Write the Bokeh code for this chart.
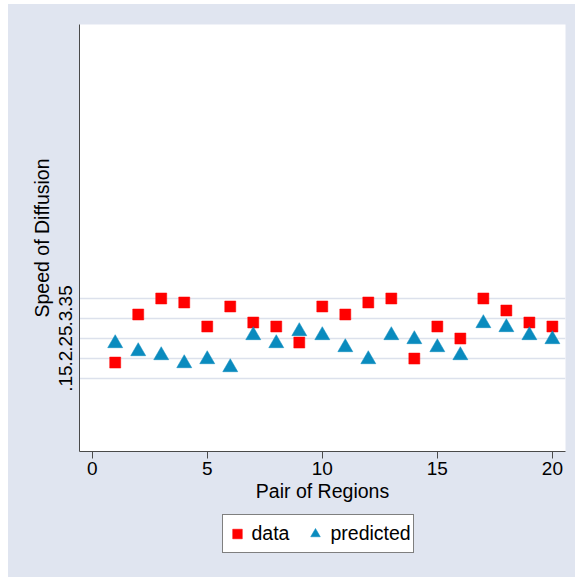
from bokeh.plotting import figure
from bokeh.layouts import column
from bokeh.models import Range1d, FixedTicker, Legend, LegendItem
from bokeh.embed import file_html
from bokeh.resources import INLINE

# ---- data ----
pairs = list(range(1, 21))
data = [0.19, 0.31, 0.35, 0.34, 0.28, 0.33, 0.29, 0.28, 0.24, 0.33,
        0.31, 0.34, 0.35, 0.20, 0.28, 0.25, 0.35, 0.32, 0.29, 0.28]
predicted = [0.238, 0.218, 0.208, 0.188, 0.198, 0.178, 0.258, 0.238, 0.268, 0.258,
             0.228, 0.198, 0.258, 0.248, 0.228, 0.208, 0.288, 0.278, 0.258, 0.248]
x_ticks = [0, 5, 10, 15, 20]
y_ticks = [0.15, 0.2, 0.25, 0.3, 0.35]
y_tick_labels = [".15", ".2", ".25", ".3", ".35"]
series_labels = ["data", "predicted"]

BG = "#E0E5F0"
GRID = "#DCE1EC"
AXIS = "#4a4a4a"
FONT = "Liberation Sans"
RED = "#FF0000"
BLUE = "#0A8BBE"

p = figure(width=567, height=509, output_backend="svg", toolbar_location=None,
           x_range=Range1d(-0.552, 20.57), y_range=Range1d(-0.032, 1.034),
           background_fill_color="white", border_fill_color=BG,
           min_border_left=71, min_border_right=10, min_border_top=20,
           min_border_bottom=62)
p.outline_line_color = None

# x axis
xa = p.xaxis[0]
xa.ticker = FixedTicker(ticks=x_ticks)
xa.axis_label = "Pair of Regions"
xa.axis_line_color = AXIS
xa.major_tick_line_color = AXIS
xa.major_tick_out = 7
xa.major_tick_in = 0
xa.minor_tick_line_color = None
xa.major_label_standoff = 3
xa.major_label_text_font = FONT
xa.major_label_text_font_size = "19px"
xa.major_label_text_color = "black"
xa.axis_label_text_font = FONT
xa.axis_label_text_font_size = "19.5px"
xa.axis_label_text_font_style = "normal"
xa.axis_label_text_color = "black"
xa.axis_label_standoff = 2

# y axis
ya = p.yaxis[0]
ya.ticker = FixedTicker(ticks=y_ticks)
ya.major_label_overrides = dict(zip(y_ticks, y_tick_labels))
ya.major_label_orientation = "vertical"
ya.axis_label = "Speed of Diffusion"
ya.axis_line_color = AXIS
ya.major_tick_line_color = None
ya.major_tick_out = 0
ya.major_tick_in = 0
ya.minor_tick_line_color = None
ya.major_label_standoff = 7
ya.major_label_text_font = FONT
ya.major_label_text_font_size = "19px"
ya.major_label_text_color = "black"
ya.axis_label_text_font = FONT
ya.axis_label_text_font_size = "19.5px"
ya.axis_label_text_font_style = "normal"
ya.axis_label_text_color = "black"
ya.axis_label_standoff = 4

p.xgrid.grid_line_color = None
p.ygrid.ticker = FixedTicker(ticks=y_ticks)
p.ygrid.grid_line_color = GRID
p.ygrid.grid_line_width = 1.5

p.scatter(pairs, data, marker="square", size=11,
          fill_color=RED, line_color=RED, line_width=0.5)
p.scatter(pairs, predicted, marker="triangle", size=15,
          fill_color=BLUE, line_color=BLUE, line_width=0.5)

# ---- legend strip below the chart (transparent, on the grey graph region) ----
lf = figure(width=567, height=64, output_backend="svg", toolbar_location=None,
            x_range=Range1d(0, 1), y_range=Range1d(0, 1),
            x_axis_type=None, y_axis_type=None,
            background_fill_color=None, border_fill_color=None,
            min_border_left=71, min_border_right=10, min_border_top=0,
            min_border_bottom=0)
lf.outline_line_color = None
lf.xgrid.visible = False
lf.ygrid.visible = False
# legend keys (single off-range point each, only their styles are shown in the key)
k_data = lf.scatter([-5], [-5], marker="square", size=11,
                    fill_color=RED, line_color=RED, line_width=0.5)
k_pred = lf.scatter([-5], [-5], marker="triangle", size=15,
                    fill_color=BLUE, line_color=BLUE, line_width=0.5)

legend = Legend(items=[LegendItem(label=series_labels[0], renderers=[k_data]),
                       LegendItem(label=series_labels[1], renderers=[k_pred])],
                orientation="horizontal", location=(142.5, 24),
                border_line_color="black", border_line_width=1,
                background_fill_color="white", background_fill_alpha=1.0,
                glyph_width=24, glyph_height=33, padding=2, spacing=14,
                label_standoff=3, label_text_font=FONT,
                label_text_font_size="19.5px", label_text_color="black",
                margin=0)
lf.add_layout(legend, "center")

root = column(p, lf, spacing=0, margin=(4, 0, 0, 8),
              styles={"background-color": BG})
open("out.html", "w").write(file_html(root, INLINE))
